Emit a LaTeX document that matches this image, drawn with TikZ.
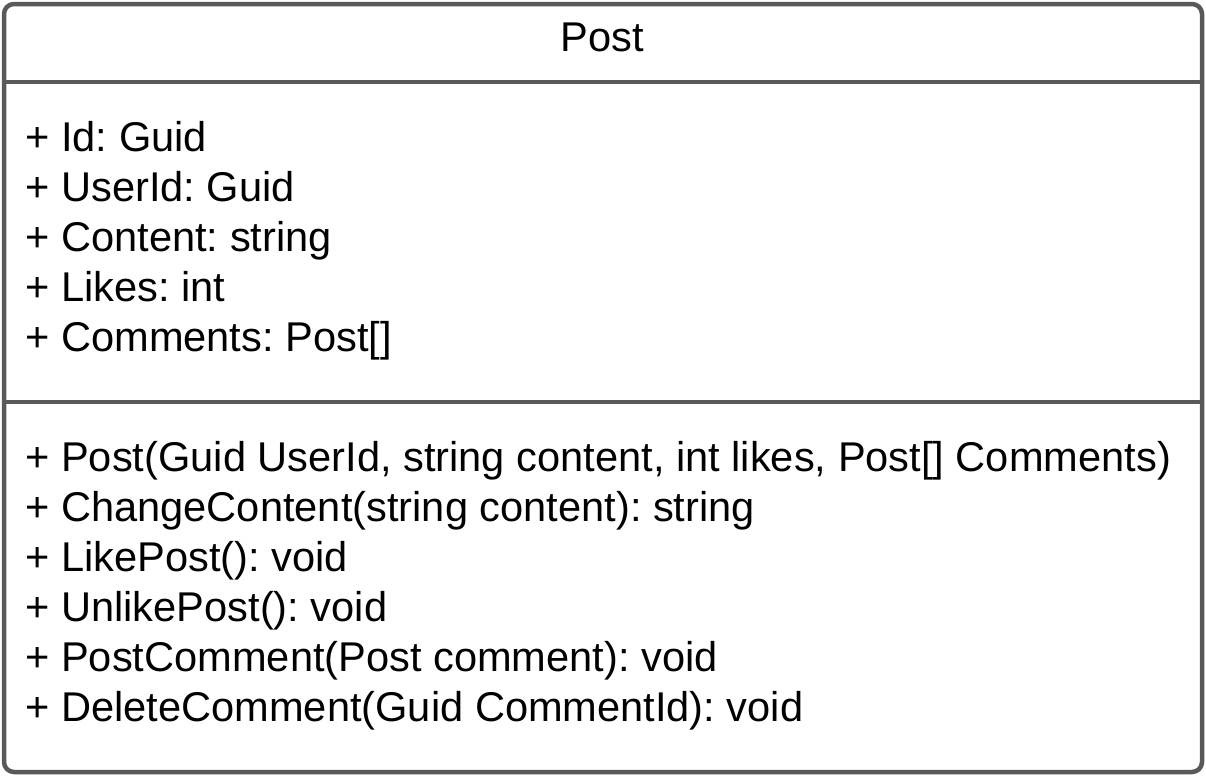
\documentclass[tikz,border=0pt]{standalone}
\usepackage{fontspec}
\setmainfont{Liberation Sans}
\definecolor{umlline}{HTML}{595959}
\begin{document}
\frenchspacing
\begin{tikzpicture}[x=0.5pt,y=-0.5pt,
  umltext/.style={anchor=base west,inner sep=0pt,font=\fontsize{20.8}{25}\selectfont,text=black},
  umlborder/.style={draw=umlline,line width=2.25pt}]
\useasboundingbox (0,0) rectangle (1206,776);
\draw[umlborder,rounded corners=5pt] (4,4) rectangle (1202,772);
\draw[umlborder] (4,82) -- (1202,82);
\draw[umlborder] (4,402) -- (1202,402);
\node[umltext,anchor=base] (title) at (602,51) {Post};
\node[umltext] (a1) at (25,151.5) {+ Id: Guid};
\node[umltext] (a2) at (25,201.5) {+ UserId: Guid};
\node[umltext] (a3) at (25,251.5) {+ Content: string};
\node[umltext] (a4) at (25,301.5) {+ Likes: int};
\node[umltext] (a5) at (25,351.5) {+ Comments: Post[]};
\node[umltext] (m1) at (25,471.5) {+ Post(Guid UserId, string content, int likes, Post[] Comments)};
\node[umltext] (m2) at (25,521.5) {+ ChangeContent(string content): string};
\node[umltext] (m3) at (25,571.5) {+ LikePost(): void};
\node[umltext] (m4) at (25,621.5) {+ UnlikePost(): void};
\node[umltext] (m5) at (25,671.5) {+ PostComment(Post comment): void};
\node[umltext] (m6) at (25,721.5) {+ DeleteComment(Guid CommentId): void};
\end{tikzpicture}
\end{document}
